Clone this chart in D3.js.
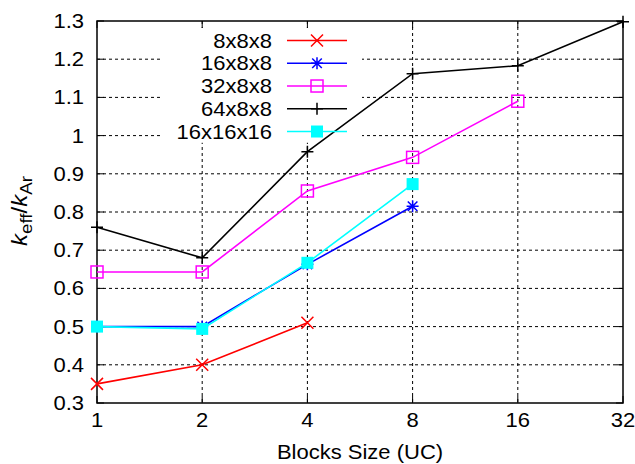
<!DOCTYPE html>
<html>
<head>
<meta charset="utf-8">
<script src="https://cdn.jsdelivr.net/npm/d3@7"></script>
<style>
  body { margin: 0; background: #fff; }
  svg { display: block; }
  text { font-family: "Liberation Sans", Arial, sans-serif; fill: #000; }
</style>
</head>
<body>
<svg width="635" height="464"></svg>
<script>
// block sizes on the x axis (unit cells)
const blockSizes = [1, 2, 4, 8, 16, 32]
const yTicks = [0.3, 0.4, 0.5, 0.6, 0.7, 0.8, 0.9, 1.0, 1.1, 1.2, 1.3]
const yTickLabels = ['0.3', '0.4', '0.5', '0.6', '0.7', '0.8', '0.9', '1', '1.1', '1.2', '1.3']

// k_eff / k_Ar for each system size, one value per block size
const names = ['8x8x8', '16x8x8', '32x8x8', '64x8x8', '16x16x16']
const vals8x8x8 = [0.35, 0.40, 0.51]
const vals16x8x8 = [0.50, 0.50, 0.663, 0.815]
const vals32x8x8 = [0.643, 0.643, 0.855, 0.943, 1.09]
const vals64x8x8 = [0.76, 0.68, 0.958, 1.162, 1.183, 1.298]
const vals16x16x16 = [0.50, 0.494, 0.667, 0.873]
const colors = ['#ff0000', '#0000ff', '#ff00ff', '#000000', '#00ffff']
const markers = ['x', 'star', 'openSquare', 'plus', 'filledSquare']

const seriesVals = [vals8x8x8, vals16x8x8, vals32x8x8, vals64x8x8, vals16x16x16]

const svg = d3.select('svg')
const plotL = 97, plotR = 623, plotT = 21, plotB = 403
const stretch = 1.1 // the original text is a bit wider than Liberation Sans

const x = d3.scaleLog().base(2).domain([1, 32]).range([plotL, plotR])
const y = d3.scaleLinear().domain([0.3, 1.3]).range([plotB, plotT])

// put a horizontally stretched label at (px, py)
function label(px, py, str, anchor) {
  return svg.append('text')
    .attr('transform', `translate(${px},${py}) scale(${stretch},1)`)
    .attr('text-anchor', anchor)
    .attr('font-size', 20)
    .text(str)
}

// grid (dashed)
const grid = svg.append('g')
  .attr('stroke', '#000')
  .attr('stroke-width', 1)
  .attr('stroke-dasharray', '3,3')
grid.selectAll('.hg')
  .data(yTicks.slice(1, -1))
  .join('line')
  .attr('x1', plotL).attr('x2', plotR)
  .attr('y1', (d) => y(d)).attr('y2', (d) => y(d))
grid.selectAll('.vg')
  .data(blockSizes.slice(1, -1))
  .join('line')
  .attr('x1', (d) => x(d)).attr('x2', (d) => x(d))
  .attr('y1', plotT).attr('y2', plotB)

// opaque key background
const keyX0 = 163, keyX1 = 362, keyY0 = 28, keyRow = 22.75
svg.append('rect')
  .attr('x', keyX0).attr('y', keyY0)
  .attr('width', keyX1 - keyX0).attr('height', keyRow * 5 + 1)
  .attr('fill', '#fff')

// ticks (inside, mirrored)
const tickLen = 7
const ticks = svg.append('g').attr('stroke', '#000').attr('stroke-width', 1)
yTicks.forEach((t) => {
  ticks.append('line').attr('x1', plotL).attr('x2', plotL + tickLen).attr('y1', y(t)).attr('y2', y(t))
  ticks.append('line').attr('x1', plotR).attr('x2', plotR - tickLen).attr('y1', y(t)).attr('y2', y(t))
})
blockSizes.forEach((t) => {
  ticks.append('line').attr('x1', x(t)).attr('x2', x(t)).attr('y1', plotB).attr('y2', plotB - tickLen)
  ticks.append('line').attr('x1', x(t)).attr('x2', x(t)).attr('y1', plotT).attr('y2', plotT + tickLen)
})

// frame
svg.append('rect')
  .attr('x', plotL).attr('y', plotT)
  .attr('width', plotR - plotL).attr('height', plotB - plotT)
  .attr('fill', 'none').attr('stroke', '#000').attr('stroke-width', 1.5)

// tick labels
yTicks.forEach((t, i) => label(plotL - 13, y(t) + 7, yTickLabels[i], 'end'))
blockSizes.forEach((b) => label(x(b), 427, String(b), 'middle'))

// axis titles
label((plotL + plotR) / 2, 459, 'Blocks Size (UC)', 'middle')

const yl = svg.append('text')
  .attr('transform', 'translate(27,211) rotate(-90) scale(1.1,1)')
  .attr('text-anchor', 'middle')
  .attr('font-size', 22)
yl.append('tspan').attr('font-style', 'italic').text('k')
yl.append('tspan').attr('font-size', 17).attr('dy', 5).text('eff')
yl.append('tspan').attr('dy', -5).text('/')
yl.append('tspan').attr('font-style', 'italic').text('k')
yl.append('tspan').attr('font-size', 17).attr('dy', 5).text('Ar')

// marker drawing
function drawMarker(g, type, cx, cy, color) {
  const r = 6
  if (type === 'x') {
    g.append('path')
      .attr('d', `M${cx - r},${cy - r}L${cx + r},${cy + r}M${cx - r},${cy + r}L${cx + r},${cy - r}`)
      .attr('stroke', color).attr('stroke-width', 1.5).attr('fill', 'none')
  } else if (type === 'plus') {
    g.append('path')
      .attr('d', `M${cx - r},${cy}L${cx + r},${cy}M${cx},${cy - r}L${cx},${cy + r}`)
      .attr('stroke', color).attr('stroke-width', 1.5).attr('fill', 'none')
  } else if (type === 'star') {
    g.append('path')
      .attr('d', `M${cx - r},${cy}L${cx + r},${cy}M${cx},${cy - r}L${cx},${cy + r}` +
        `M${cx - r * 0.8},${cy - r * 0.8}L${cx + r * 0.8},${cy + r * 0.8}M${cx - r * 0.8},${cy + r * 0.8}L${cx + r * 0.8},${cy - r * 0.8}`)
      .attr('stroke', color).attr('stroke-width', 1.5).attr('fill', 'none')
  } else if (type === 'openSquare') {
    g.append('rect')
      .attr('x', cx - r).attr('y', cy - r).attr('width', 2 * r).attr('height', 2 * r)
      .attr('stroke', color).attr('stroke-width', 1.5).attr('fill', 'none')
  } else if (type === 'filledSquare') {
    g.append('rect')
      .attr('x', cx - r).attr('y', cy - r).attr('width', 2 * r).attr('height', 2 * r)
      .attr('fill', color)
  }
}

const line = d3.line()
  .x((d, i) => x(blockSizes[i]))
  .y((d) => y(d))

seriesVals.forEach((vals, s) => {
  const g = svg.append('g')
  g.append('path')
    .datum(vals)
    .attr('d', line)
    .attr('fill', 'none')
    .attr('stroke', colors[s])
    .attr('stroke-width', 1.6)
  vals.forEach((v, i) => drawMarker(g, markers[s], x(blockSizes[i]), y(v), colors[s]))
})

// key
names.forEach((name, s) => {
  const cy = keyY0 + keyRow * (s + 0.55)
  label(272, cy + 7, name, 'end')
  const g = svg.append('g')
  g.append('line')
    .attr('x1', 287).attr('x2', 347).attr('y1', cy).attr('y2', cy)
    .attr('stroke', colors[s]).attr('stroke-width', 1.6)
  drawMarker(g, markers[s], 317, cy, colors[s])
})
</script>
</body>
</html>
